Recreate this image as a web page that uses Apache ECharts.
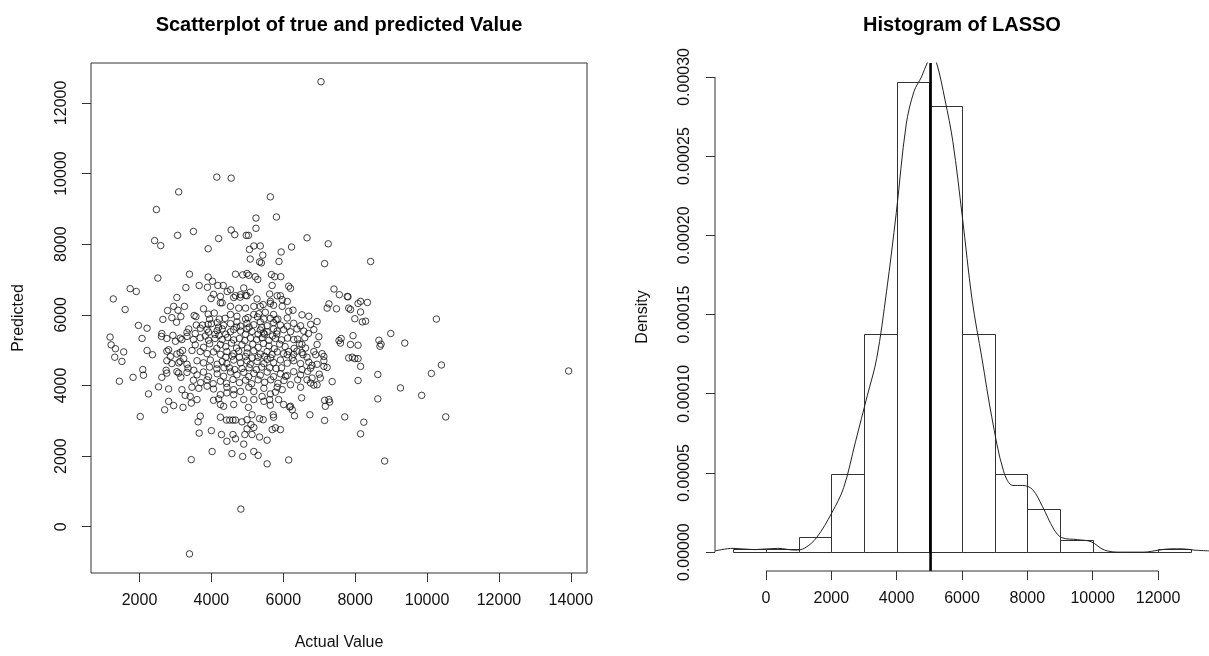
<!DOCTYPE html>
<html>
<head>
<meta charset="utf-8">
<script src="https://cdn.jsdelivr.net/npm/echarts@6/dist/echarts.min.js"></script>
<style>
  html, body { margin: 0; padding: 0; background: #fff; }
  #chart { width: 1209px; height: 656px; }
</style>
</head>
<body>
<div id="chart"></div>
<script>
const FONT = '"Liberation Sans", Arial, Helvetica, sans-serif';

// [actual, predicted] pairs for the LASSO model
const lassoPoints = [
  // predicted >= 9000
  [7050,12600],[4150,9900],[4550,9870],[3090,9480],[5640,9340],
  // 8000 - 9000
  [2470,8980],[5240,8740],[5810,8770],[3500,8360],[4550,8400],[3060,8250],[5240,8450],[4650,8270],[4970,8250],[5030,8250],[4200,8160],[2420,8100],[6660,8180],[7250,8010],
  // 7000 - 8000
  [2590,7960],[3910,7870],[5060,7850],[5180,7950],[5360,7950],[6230,7920],[5940,7780],[5430,7690],[5080,7580],[5340,7500],[5390,7470],[5880,7510],[7150,7450],[8430,7510],[2510,7040],[3390,7150],[4670,7150],[4870,7130],[4990,7170],[5040,7120],[5220,7080],[5290,7000],[5670,7140],[5760,7080],[5930,7080],[3910,7070],
  // 6000 - 7000
  [1740,6740],[1910,6660],[1270,6450],[1600,6150],[3040,6490],[3290,6770],[3660,6830],[3890,6780],[4030,6950],[4180,6830],[4330,6830],[4060,6580],[3990,6460],[4300,6340],[2950,6240],[3070,6130],[3250,6240],[2780,6120],[3780,6170],[3910,6020],[4080,6050],
  [4530,6710],[4670,6540],[4810,6570],[4990,6540],[4900,6760],[5080,6640],[5690,6830],[5620,6590],[5830,6540],[5920,6540],[6150,6810],[6200,6750],[7410,6730],[7560,6570],[7780,6520],[5270,6450],[5440,6290],[5640,6320],[5970,6430],[6110,6380],[7270,6310],[7220,6190],[7480,6170],[7820,6190],[4250,6520],[4250,6340],[4440,6660],[4620,6490],[4800,6500],[4950,6550],[4530,6240],[4760,6190],[4950,6190],[5180,6240],[5360,6240],[5640,6380],[5730,6270],[5970,6240],[6150,6100],[6270,6130],[6520,6000],[4530,6010],[5320,6030],[5500,6070],[5730,6010],[5180,6010],
  [7800,6510],[8150,6380],[8080,6320],[8340,6350],[7870,6150],[8150,6080],
  // 5000 - 6000
  [6710,5960],[6940,5810],[4710,5960],[4950,5880],[6110,5910],[2900,5920],[3030,5790],[3150,5950],[2650,5870],[3520,5980],[3570,5950],[3580,5710],[3750,5710],[3910,5730],[4000,5750],[1970,5700],[2210,5620],[1180,5370],[1210,5150],[1330,5040],[2070,5330],[2620,5470],[2930,5420],[3320,5500],[3550,5470],[3920,5510],[4210,5420],[7990,5890],[8200,5800],[8290,5820],[10260,5880],[7940,5410],[8660,5280],[8990,5470],[8080,5140],[8690,5110],[8720,5170],[9380,5200],[6940,5160],[7550,5270],[7610,5330],[7590,5200],[6520,5160],[6620,5060],[6290,5300],[7870,5160],[2610,5390],[2760,5330],[3000,5250],[3180,5300],[3320,5390],[2810,5010],
  [4160,5780],[4340,5700],[4530,5750],[4710,5800],[4810,5680],[4990,5760],[5180,5720],[5360,5800],[5550,5690],[5730,5780],[5920,5710],[6110,5680],[6290,5760],[6480,5690],[6760,5730],
  [3370,5600],[3690,5620],[3880,5590],[4160,5550],[4300,5600],[4530,5520],[4620,5580],[4810,5540],[4990,5600],[5130,5530],[5360,5570],[5550,5520],[5730,5600],[5830,5540],[6010,5580],[6200,5520],[6380,5600],[6570,5540],
  [3130,5340],[3500,5300],[3690,5350],[3920,5280],[4100,5330],[4300,5300],[4450,5360],[4620,5290],[4780,5330],[4930,5270],[5090,5340],[5260,5300],[5410,5350],[5600,5280],[5780,5330],[5950,5290],[6120,5340],[6400,5310],[6600,5350],[6990,5380],
  [3550,5150],[3780,5080],[3950,5180],[4150,5050],[4250,5160],[4400,5100],[4560,5200],[4700,5060],[4850,5150],[5000,5060],[5150,5170],[5300,5080],[5450,5190],[5600,5120],[5750,5040],[5900,5170],[6050,5100],[6300,5050],[6450,5180],
  [5450,5480],[5480,5450],[5300,5450],[4950,5450],[4400,5450],[5820,5460],[5850,5880],[5640,5900],[4380,5900],[4220,5880],[5020,5920],[5280,5940],[5460,5880],[3950,5880],[4200,5650],[4700,5650],[5050,5650],[5400,5650],[5800,5860],[5700,5400],[6700,5470],[6850,5580],[3830,5400],[4100,5450],
  // 4000 - 5000
  [7990,4760],[8080,4760],[7920,4800],[8150,4540],[8630,4310],[8080,4140],[10400,4580],[10120,4340],[13940,4410],[7360,4110],[7820,4780],[7130,4820],[6900,4870],[6550,4870],[6660,4800],[6760,4490],[6800,4570],[7220,4510],[7130,4540],[7000,4320],[6520,4450],[6680,4400],[6060,4260],[6380,4970],[6250,4780],[6110,4870],[7030,4210],[6660,4160],[6760,4070],[6200,4020],[6850,4010],[6940,4020],
  [1560,4950],[1510,4680],[1310,4800],[1440,4120],[1820,4230],[2110,4290],[2090,4450],[2620,4230],[2740,4430],[2760,4350],[3090,4350],[3150,4230],[3350,4490],[3510,4430],[2210,4990],[2360,4870],[3040,4890],[3200,4990],[3090,4640],[3230,4760],[2860,4820],
  [2760,4970],[3130,4930],[3460,4990],[3690,4960],[3880,4900],[4060,4950],[4250,4880],[4430,4960],[4620,4900],[4760,4970],[4990,4920],[5180,4980],[5360,4890],[5550,4960],[5690,4880],[5830,4950],[6010,4900],[6150,4960],[6290,4880],[6520,4930],[6850,4960],[7080,4900],
  [2760,4700],[2900,4620],[3130,4680],[3320,4600],[3600,4700],[3780,4640],[3970,4720],[4160,4600],[4300,4680],[4430,4620],[4620,4720],[4810,4640],[4990,4700],[5080,4600],[5270,4680],[5460,4620],[5550,4740],[5730,4650],[5920,4720],[6110,4630],[6290,4700],[6480,4620],[6710,4660],[6940,4600],[7130,4700],
  [3040,4390],[3320,4370],[3600,4300],[3780,4380],[3920,4250],[4160,4330],[4340,4260],[4530,4380],[4710,4300],[4900,4370],[5040,4250],[5180,4340],[5360,4290],[5550,4380],[5730,4250],[5920,4330],[6110,4280],[6290,4390],[6480,4300],[6800,4210],
  [3500,4150],[3700,4080],[3880,4160],[4050,4050],[4250,4120],[4420,4060],[4600,4170],[4780,4080],[4950,4150],[5120,4050],[5300,4160],[5480,4090],[5650,4160],[5850,4060],[6020,4140],[6400,4160],
  [4500,4500],[4650,4450],[4850,4480],[5050,4500],[5250,4450],[5400,4520],[5620,4500],[4350,4500],[4150,4470],[3950,4520],[5800,4480],[5950,4500],[4400,4800],[4580,4830],[4780,4800],[4950,4820],[5130,4780],[5300,4800],[5480,4830],[5650,4780],
  // 3000 - 4000
  [2020,3120],[2700,3310],[2810,3550],[2950,3430],[3210,3380],[3440,3500],[3270,3720],[2250,3760],[2530,3960],[3690,3130],
  [4250,3100],[4420,3020],[4510,3020],[4600,3020],[4670,3020],[4990,3030],[5130,3170],[5340,3060],[5440,3030],[5720,3170],[5730,3100],[6200,3410],[6250,3310],[6310,3140],[6740,3170],[7150,3010],[7170,3410],[7290,3530],[7270,3600],[7710,3110],[6510,3650],[7150,3580],[6180,3390],
  [8630,3620],[9850,3720],[9260,3930],[10520,3110],
  [4250,3460],[4340,3410],[4620,3460],[4900,3600],[5180,3600],[5460,3550],[5620,3600],[5870,3600],[4250,3740],[4430,3790],[4620,3740],[4810,3830],[5180,3830],[5410,3690],[5640,3760],[5780,3810],
  [2810,3900],[3180,3880],[3460,3950],[3650,3920],[3880,3980],[4060,3900],[4430,3950],[4620,3880],[5040,3950],[5460,3920],[5830,3950],[5970,3880],[6480,3950],[3410,3690],[3600,3600],[4060,3580],[4200,3620],[5030,3380],[5640,3440],[6010,3460],
  // 2000 - 3000
  [4020,2130],[3660,2650],[4000,2720],[4280,2610],[3630,2970],[4570,2070],[5180,2130],[5300,2020],[4900,2340],[5340,2540],[5550,2450],[4430,2420],[4600,2610],[4670,2490],[4930,2610],[5130,2610],[4850,2970],[5690,2750],[5780,2800],[5920,2750],[5100,2890],[4990,2770],[5180,2810],[8150,2630],[8240,2960],
  // below 2000
  [3440,1900],[5550,1780],[6150,1890],[8820,1860],[4870,1990],[4820,500],[3390,-770]
];

const scatterXTicks = [2000, 4000, 6000, 8000, 10000, 12000, 14000];
const scatterYTicks = [0, 2000, 4000, 6000, 8000, 10000, 12000];

// histogram of predicted values (density scale), bins of width 1000
const binEdges = [-1000, 0, 1000, 2000, 3000, 4000, 5000, 6000, 7000, 8000, 9000, 10000, 11000, 12000, 13000];
const binDensity = [0.0000019, 0.0000019, 0.0000098, 0.0000495, 0.0001379, 0.0002968, 0.0002818, 0.0001379, 0.0000495, 0.0000271, 0.0000079, 0, 0, 0.0000019];

// kernel density estimate of the predicted values
const kdeX = [-1560, -1010, -360, 360, 890, 1190, 1550, 2020, 2380, 2740, 3100, 3390, 3690, 3990, 4290, 4530, 4760, 4940, 5080, 5220, 5480, 5720, 6010, 6310, 6610, 6910, 7270, 7560, 7860, 8160, 8460, 8810, 9050, 9530, 9950, 10360, 10840, 11550, 12030, 12390, 12740, 13100, 13560];
const kdeY = [0.0000008, 0.0000024, 0.0000016, 0.0000024, 0.0000013, 0.0000026, 0.0000092, 0.0000250, 0.0000408, 0.0000697, 0.0000987, 0.0001224, 0.0001645, 0.0002145, 0.0002697, 0.0002908, 0.0003000, 0.0003090, 0.0003130, 0.0003090, 0.0002855, 0.0002592, 0.0002118, 0.0001592, 0.0001224, 0.0000855, 0.0000513, 0.0000421, 0.0000421, 0.0000395, 0.0000289, 0.0000145, 0.0000092, 0.0000079, 0.0000066, 0.0000013, 0, 0, 0.0000013, 0.0000021, 0.0000021, 0.0000013, 0.0000008];

const meanPredicted = 5038;

const histXTicks = [0, 2000, 4000, 6000, 8000, 10000, 12000];
const histYTicks = [0, 0.00005, 0.0001, 0.00015, 0.0002, 0.00025, 0.0003];

// axis ranges (R style: data range padded by 4%)
const scatterXRange = [650, 14450];
const scatterYRange = [-1310, 13130];
const histXRange = [-1560, 13560];
const histYRange = [-0.0000119, 0.0003088];

const INK = '#222';
const LABEL = { fontFamily: FONT, fontSize: 16, color: '#111' };
const plain = v => String(v);

const histBars = binDensity.map((d, i) => [binEdges[i], binEdges[i + 1], d]);

const chart = echarts.init(document.getElementById('chart'), null, { renderer: 'canvas' });

chart.setOption({
  animation: false,
  backgroundColor: '#fff',
  title: [
    {
      text: 'Scatterplot of true and predicted Value',
      left: 339, top: 15, textAlign: 'center', padding: 0,
      textStyle: { fontFamily: FONT, fontSize: 20, fontWeight: 'bold', color: '#000' }
    },
    {
      text: 'Histogram of LASSO',
      left: 962, top: 15, textAlign: 'center', padding: 0,
      textStyle: { fontFamily: FONT, fontSize: 20, fontWeight: 'bold', color: '#000' }
    }
  ],
  grid: [
    { left: 91, top: 63, width: 496, height: 510, show: true, borderColor: '#333', borderWidth: 1, backgroundColor: 'transparent' },
    { left: 715, top: 63, width: 494, height: 508, show: false }
  ],
  xAxis: [
    {
      gridIndex: 0, type: 'value', min: scatterXRange[0], max: scatterXRange[1],
      name: 'Actual Value', nameLocation: 'middle', nameGap: 62,
      nameTextStyle: LABEL,
      axisLine: { show: false, onZero: false },
      axisTick: { show: true, length: 9, customValues: scatterXTicks, lineStyle: { color: '#333' } },
      axisLabel: Object.assign({ customValues: scatterXTicks, margin: 20, formatter: plain }, LABEL),
      splitLine: { show: false }
    },
    {
      gridIndex: 1, type: 'value', min: histXRange[0], max: histXRange[1],
      axisLine: { show: false, onZero: false },
      axisTick: { show: true, length: 9, customValues: histXTicks, lineStyle: { color: '#333' } },
      axisLabel: Object.assign({ customValues: histXTicks, margin: 20, formatter: plain }, LABEL),
      splitLine: { show: false }
    }
  ],
  yAxis: [
    {
      gridIndex: 0, type: 'value', min: scatterYRange[0], max: scatterYRange[1],
      name: 'Predicted', nameLocation: 'middle', nameGap: 64, nameRotate: 90,
      nameTextStyle: LABEL,
      axisLine: { show: false, onZero: false },
      axisTick: { show: true, length: 9, customValues: scatterYTicks, lineStyle: { color: '#333' } },
      axisLabel: Object.assign({ customValues: scatterYTicks, rotate: 90, margin: 21, formatter: plain }, LABEL),
      splitLine: { show: false }
    },
    {
      gridIndex: 1, type: 'value', min: histYRange[0], max: histYRange[1],
      name: 'Density', nameLocation: 'middle', nameGap: 64, nameRotate: 90,
      nameTextStyle: LABEL,
      axisLine: { show: false, onZero: false },
      axisTick: { show: true, length: 9, customValues: histYTicks, lineStyle: { color: '#333' } },
      axisLabel: Object.assign({
        customValues: histYTicks, rotate: 90, margin: 22,
        formatter: v => v.toFixed(5)
      }, LABEL),
      splitLine: { show: false }
    }
  ],
  series: [
    {
      name: 'points', type: 'scatter', xAxisIndex: 0, yAxisIndex: 0,
      data: lassoPoints, symbol: 'circle', symbolSize: 6.5,
      itemStyle: { color: 'rgba(0,0,0,0)', borderColor: '#111', borderWidth: 1 },
      silent: true
    },
    {
      name: 'bins', type: 'custom', xAxisIndex: 1, yAxisIndex: 1,
      data: histBars, encode: { x: [0, 1], y: 2 }, silent: true,
      renderItem: function (params, api) {
        const p0 = api.coord([api.value(0), 0]);
        const p1 = api.coord([api.value(1), api.value(2)]);
        const x0 = Math.round(p0[0]) + 0.5, x1 = Math.round(p1[0]) + 0.5;
        const yb = Math.round(p0[1]) + 0.5, yt = Math.round(p1[1]) + 0.5;
        return {
          type: 'rect',
          shape: { x: x0, y: yt, width: x1 - x0, height: yb - yt },
          style: { fill: '#fff', stroke: '#333', lineWidth: 1 }
        };
      }
    },
    {
      name: 'density', type: 'line', xAxisIndex: 1, yAxisIndex: 1,
      data: kdeX.map((x, i) => [x, kdeY[i]]),
      symbol: 'none', smooth: 0.35, clip: true, silent: true,
      lineStyle: { color: INK, width: 1 }
    },
    {
      name: 'mean', type: 'line', xAxisIndex: 1, yAxisIndex: 1,
      data: [[meanPredicted, histYRange[0]], [meanPredicted, histYRange[1]]],
      symbol: 'none', silent: true, clip: true,
      lineStyle: { color: '#000', width: 2.6 }
    },
    {
      name: 'yAxisLine', type: 'line', xAxisIndex: 1, yAxisIndex: 1,
      data: [[histXRange[0], histYTicks[0]], [histXRange[0], histYTicks[histYTicks.length - 1]]],
      symbol: 'none', silent: true, clip: false,
      lineStyle: { color: '#333', width: 1 }
    },
    {
      name: 'xAxisLine', type: 'line', xAxisIndex: 1, yAxisIndex: 1,
      data: [[histXTicks[0], histYRange[0]], [histXTicks[histXTicks.length - 1], histYRange[0]]],
      symbol: 'none', silent: true, clip: false,
      lineStyle: { color: '#333', width: 1 }
    }
  ]
});
</script>
</body>
</html>
